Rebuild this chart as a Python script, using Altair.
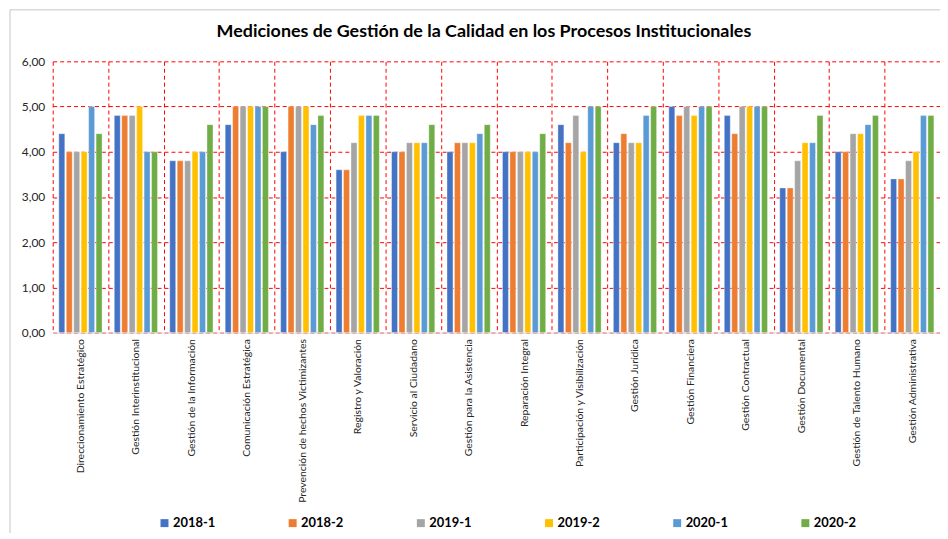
import altair as alt
import pandas as pd

title_text = "Mediciones de Gestión de la Calidad en los Procesos Institucionales"

categories = [
    "Direccionamiento  Estratégico",
    "Gestión  Interinstitucional",
    "Gestión de la Información",
    "Comunicación Estratégica",
    "Prevención de hechos Victimizantes",
    "Registro y Valoración",
    "Servicio al Ciudadano",
    "Gestión para la Asistencia",
    "Reparación  Integral",
    "Participación y Visibilización",
    "Gestión  Jurídica",
    "Gestión  Financiera",
    "Gestión  Contractual",
    "Gestión  Documental",
    "Gestión de Talento Humano",
    "Gestión  Administrativa",
]

periods = ["2018-1", "2018-2", "2019-1", "2019-2", "2020-1", "2020-2"]
colors = ["#4472C4", "#ED7D31", "#A5A5A5", "#FFC000", "#5B9BD5", "#70AD47"]

v2018_1 = [4.4, 4.8, 3.8, 4.6, 4.0, 3.6, 4.0, 4.0, 4.0, 4.6, 4.2, 5.0, 4.8, 3.2, 4.0, 3.4]
v2018_2 = [4.0, 4.8, 3.8, 5.0, 5.0, 3.6, 4.0, 4.2, 4.0, 4.2, 4.4, 4.8, 4.4, 3.2, 4.0, 3.4]
v2019_1 = [4.0, 4.8, 3.8, 5.0, 5.0, 4.2, 4.2, 4.2, 4.0, 4.8, 4.2, 5.0, 5.0, 3.8, 4.4, 3.8]
v2019_2 = [4.0, 5.0, 4.0, 5.0, 5.0, 4.8, 4.2, 4.2, 4.0, 4.0, 4.2, 4.8, 5.0, 4.2, 4.4, 4.0]
v2020_1 = [5.0, 4.0, 4.0, 5.0, 4.6, 4.8, 4.2, 4.4, 4.0, 5.0, 4.8, 5.0, 5.0, 4.2, 4.6, 4.8]
v2020_2 = [4.4, 4.0, 4.6, 5.0, 4.8, 4.8, 4.6, 4.6, 4.4, 5.0, 5.0, 5.0, 5.0, 4.8, 4.8, 4.8]

series = [v2018_1, v2018_2, v2019_1, v2019_2, v2020_1, v2020_2]

rows = []
for p, vals in zip(periods, series):
    for c, v in zip(categories, vals):
        rows.append({"Proceso": c, "Periodo": p, "Valor": v})
df = pd.DataFrame(rows)

FONT = "Lato"

bars = alt.Chart(df).mark_bar(stroke="white", strokeWidth=0.6, strokeOpacity=0.6).encode(
    x=alt.X(
        "Proceso:N",
        sort=categories,
        scale=alt.Scale(paddingInner=0, paddingOuter=0),
        axis=alt.Axis(
            title=None,
            labelAngle=-90,
            labelFontSize=10.5,
            labelFont=FONT,
            labelColor="#262626",
            labelLimit=400,
            labelPadding=6,
            ticks=False,
            domainColor="#D9D9D9",
            domainWidth=1,
            grid=True,
            tickBand="extent",
            gridColor="#FF0000",
            gridDash=[4, 3],
            gridWidth=1,
        ),
    ),
    xOffset=alt.XOffset(
        "Periodo:N",
        sort=periods,
        scale=alt.Scale(paddingInner=0.2, paddingOuter=0.82),
    ),
    y=alt.Y(
        "Valor:Q",
        scale=alt.Scale(domain=[0, 6], nice=False),
        axis=alt.Axis(
            title=None,
            values=[0, 1, 2, 3, 4, 5, 6],
            labelExpr="replace(format(datum.value, '.2f'), '.', ',')",
            labelFontSize=12,
            labelFont=FONT,
            labelColor="#262626",
            labelPadding=8,
            ticks=False,
            domain=False,
            gridColor="#FF0000",
            gridDash=[4, 3],
            gridWidth=1,
        ),
    ),
    color=alt.Color(
        "Periodo:N",
        sort=periods,
        scale=alt.Scale(domain=periods, range=colors),
        legend=alt.Legend(
            title=None,
            orient="none",
            legendX=106,
            legendY=458,
            direction="horizontal",
            columns=6,
            columnPadding=71,
            symbolType="square",
            symbolSize=64,
            symbolStrokeWidth=0,
            labelFontSize=13,
            labelFontWeight="bold",
            labelFont=FONT,
            labelColor="#000000",
            labelOffset=2,
        ),
    ),
)

frame_df = pd.DataFrame({"k": [0]})
frame_top = alt.Chart(frame_df).mark_rule(color="#D9D9D9", strokeWidth=1.5).encode(
    x=alt.value(-43), x2=alt.value(900), y=alt.value(-52)
)
frame_left = alt.Chart(frame_df).mark_rule(color="#D9D9D9", strokeWidth=1.5).encode(
    x=alt.value(-43), y=alt.value(-52), y2=alt.value(480)
)
title_mark = alt.Chart(frame_df).mark_text(
    font=FONT, fontSize=18, fontWeight="bold", color="#000000",
    align="center", baseline="middle",
).encode(
    x=alt.value(434), y=alt.value(-30), text=alt.value(title_text)
)

chart = alt.layer(frame_top, frame_left, title_mark, bars).properties(
    width=893,
    height=273,
    padding={"left": 45, "top": 52, "right": 0, "bottom": 200},
    autosize=alt.AutoSizeParams(type="none"),
).configure_view(stroke=None)

chart.save("out.html", embed_options={"renderer": "svg", "actions": False})
